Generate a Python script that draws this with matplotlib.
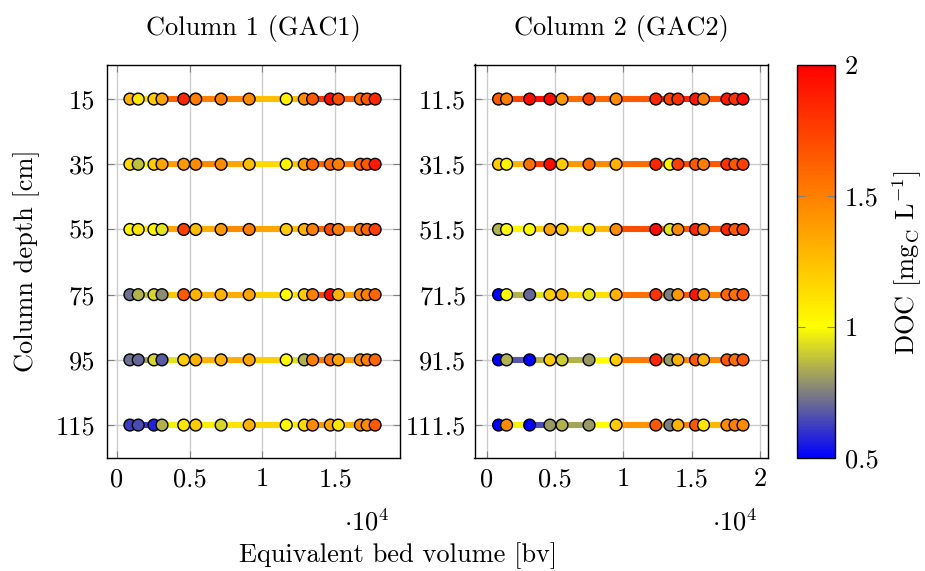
import numpy as np
import matplotlib
matplotlib.use('Agg')
import matplotlib.pyplot as plt
from matplotlib.collections import LineCollection
from matplotlib.colors import LinearSegmentedColormap, Normalize
from matplotlib.cm import ScalarMappable

plt.rcParams['font.family'] = ['cmr10']
plt.rcParams['mathtext.fontset'] = 'cm'
plt.rcParams['axes.unicode_minus'] = False
plt.rcParams['axes.formatter.use_mathtext'] = True
FS = 19

# ---------------- data ----------------
bv_gac1 = [913, 1483, 2562, 3111, 4602, 5426, 7163, 9087, 11628, 12864,
           13434, 14650, 15199, 16710, 17170, 17720]
bv_gac2 = [880, 1466, 3152, 4641, 5521, 7500, 9480, 12390, 13416, 14003,
           15293, 15880, 17595, 18182, 18768]

depth_gac1 = [15, 35, 55, 75, 95, 115]
depth_gac2 = [11.5, 31.5, 51.5, 71.5, 91.5, 111.5]

doc_gac1 = [
    [1.30, 1.10, 1.20, 1.35, 1.85, 1.50, 1.50, 1.45, 1.05, 1.45, 1.65, 1.95, 1.70, 1.55, 1.65, 1.85],
    [1.15, 0.88, 1.20, 1.35, 1.40, 1.45, 1.45, 1.25, 1.05, 1.40, 1.60, 1.60, 1.50, 1.60, 1.65, 1.90],
    [1.05, 1.10, 1.05, 0.95, 1.75, 1.25, 1.40, 1.50, 1.20, 1.30, 1.50, 1.70, 1.50, 1.50, 1.60, 1.75],
    [0.72, 0.85, 0.92, 0.78, 1.65, 1.30, 1.30, 1.35, 1.02, 1.20, 1.50, 1.95, 1.30, 1.45, 1.50, 1.60],
    [0.72, 0.70, 0.92, 0.68, 1.20, 1.30, 1.30, 1.35, 1.03, 0.85, 1.50, 1.55, 1.35, 1.45, 1.50, 1.60],
    [0.62, 0.65, 0.57, 0.85, 1.10, 1.20, 0.92, 1.30, 1.02, 1.15, 1.45, 1.35, 1.10, 1.45, 1.45, 1.65],
]
doc_gac2 = [
    [1.65, 1.50, 1.95, 1.95, 1.40, 1.75, 1.45, 1.85, 1.75, 1.80, 1.90, 1.50, 1.90, 1.80, 1.95],
    [1.20, 1.05, 1.55, 1.95, 1.20, 1.60, 1.30, 1.85, 1.05, 1.75, 1.65, 1.50, 1.80, 1.65, 1.75],
    [0.85, 1.03, 1.02, 1.35, 1.20, 1.10, 1.45, 1.95, 0.95, 1.45, 1.85, 1.45, 1.85, 1.65, 1.75],
    [0.50, 1.00, 0.70, 1.20, 1.30, 0.95, 1.30, 1.80, 0.75, 1.40, 1.90, 1.40, 1.60, 1.55, 1.65],
    [0.50, 0.85, 0.50, 1.20, 0.90, 0.80, 1.20, 1.85, 0.80, 1.30, 1.65, 1.30, 1.65, 1.55, 1.65],
    [0.50, 1.45, 0.50, 0.80, 0.85, 0.80, 1.20, 1.65, 0.75, 1.30, 1.65, 1.10, 1.45, 1.50, 1.45],
]

titles = ['Column 1 (GAC1)', 'Column 2 (GAC2)']
xticks_gac1 = [0, 5000, 10000, 15000]
xticklabels_gac1 = ['0', '0.5', '1', '1.5']
xticks_gac2 = [0, 5000, 10000, 15000, 20000]
xticklabels_gac2 = ['0', '0.5', '1', '1.5', '2']
cbar_ticks = [0.5, 1.0, 1.5, 2.0]
cbar_ticklabels = ['0.5', '1', '1.5', '2']

# ---------------- style ----------------
cmap = LinearSegmentedColormap.from_list(
    'doc', [(0.0, (0, 0, 1)), (1 / 3, (1, 1, 0)), (1.0, (1, 0, 0))])
norm = Normalize(vmin=0.5, vmax=2.0)

W, H = 925, 571
fig = plt.figure(figsize=(W / 100, H / 100), dpi=100)


def fr(x0, y0, x1, y1):
    return [x0 / W, 1 - y1 / H, (x1 - x0) / W, (y1 - y0) / H]


ax1 = fig.add_axes(fr(106.5, 64.5, 399.5, 458))
ax2 = fig.add_axes(fr(474.5, 64.5, 767.5, 458))
cax = fig.add_axes(fr(797, 64.5, 835, 458))

panels = [
    (ax1, bv_gac1, depth_gac1, doc_gac1, xticks_gac1, xticklabels_gac1,
     (-690, 19390), (125.1, 4.4)),
    (ax2, bv_gac2, depth_gac2, doc_gac2, xticks_gac2, xticklabels_gac2,
     (-880, 20560), (121.6, 0.9)),
]

for ax, bv, depths, docs, xt, xtl, xl, yl in panels:
    for d, vals in zip(depths, docs):
        x = np.asarray(bv, float)
        v = np.asarray(vals, float)
        pts = np.column_stack([x, np.full_like(x, d)])
        segs = np.stack([pts[:-1], pts[1:]], axis=1)
        mean = 0.5 * (v[:-1] + v[1:])
        lc = LineCollection(segs, colors=cmap(norm(mean)), linewidths=4.4,
                            capstyle='butt', zorder=2)
        ax.add_collection(lc)
        ax.scatter(x, np.full_like(x, d), c=v, cmap=cmap, norm=norm, s=72,
                   edgecolors='black', linewidths=1.0, zorder=3)
    ax.set_xlim(*xl)
    ax.set_ylim(*yl)
    ax.set_xticks(xt)
    ax.set_xticklabels(xtl)
    ax.set_yticks(depths)
    ax.set_yticklabels([('%g' % d) for d in depths])
    ax.grid(True, color='#cccccc', linewidth=1.0, zorder=0)
    ax.set_axisbelow(True)
    ax.tick_params(direction='in', length=5, width=0.8, color='#808080',
                   top=True, right=True, labelsize=FS)
    ax.tick_params(axis='y', pad=8)
    ax.tick_params(axis='x', pad=7)
    for s in ax.spines.values():
        s.set_linewidth(1.0)

ax2.tick_params(axis='y', pad=6)

# scale labels
ax1.text(0.89, -0.163, r'$\cdot 10^{4}$', transform=ax1.transAxes,
         ha='center', va='center', fontsize=FS)
ax2.text(0.89, -0.163, r'$\cdot 10^{4}$', transform=ax2.transAxes,
         ha='center', va='center', fontsize=FS)

# titles and labels
fig.text(253 / W, 1 - 28 / H, titles[0], ha='center', va='center', fontsize=FS)
fig.text(621 / W, 1 - 28 / H, titles[1], ha='center', va='center', fontsize=FS)
fig.text(27 / W, 1 - 261 / H, 'Column depth [cm]', rotation=90,
         ha='center', va='center', fontsize=FS)
fig.text(398 / W, 1 - 556 / H, 'Equivalent bed volume [bv]',
         ha='center', va='center', fontsize=FS)

# colorbar
sm = ScalarMappable(norm=norm, cmap=cmap)
cb = fig.colorbar(sm, cax=cax)
cb.set_ticks(cbar_ticks)
cb.set_ticklabels(cbar_ticklabels)
cb.outline.set_linewidth(1.0)
cax.tick_params(direction='in', length=6, width=0.8, color='#808080',
                left=True, right=True, labelsize=FS, pad=7)
fig.text(907 / W, 1 - 262 / H, r'DOC [mg$_{\mathrm{C}}$ L$^{-1}$]',
         rotation=90, ha='center', va='center', fontsize=FS)

fig.savefig('out.png', dpi=100)
